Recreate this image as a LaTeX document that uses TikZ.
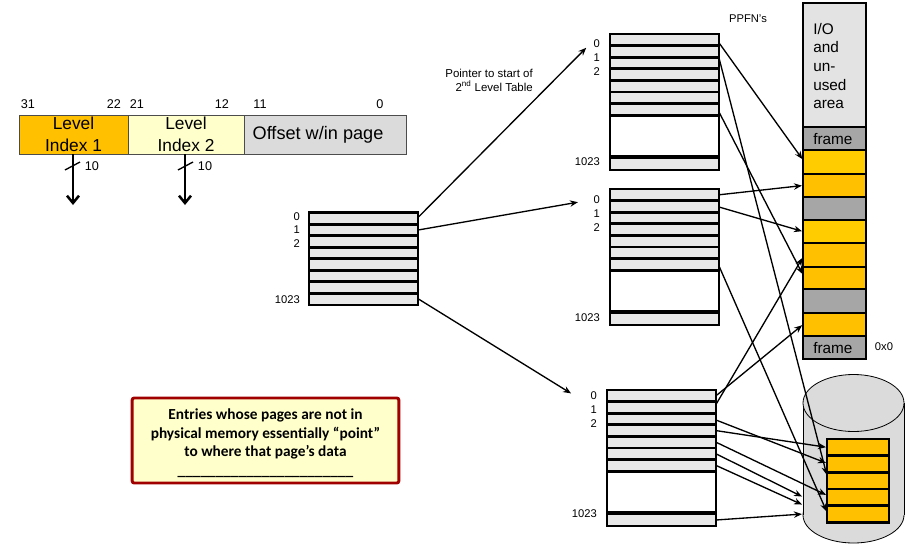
\documentclass[tikz,border=0pt]{standalone}
\usepackage{fontspec}
\setmainfont{Liberation Sans}
\newfontfamily\notefont{Carlito}
\usetikzlibrary{arrows.meta}
\newcommand{\rowh}{11.6}
\tikzset{
  rowcell/.style={draw=black,fill=gray!18,line width=2.1pt,inner sep=0pt,outer sep=0pt,anchor=north west,minimum width=81.75pt,minimum height=8.7pt},
  gapcell/.style={rowcell,fill=white,minimum height=32pt},
  memcell/.style={draw=black,line width=2.2pt,inner sep=0pt,outer sep=0pt,anchor=north west,minimum width=47.25pt},
  diskcell/.style={draw=black,fill=gold2,line width=2.2pt,inner sep=0pt,outer sep=0pt,anchor=north west,minimum width=46.5pt,minimum height=12.5pt},
  bitcell/.style={draw=black!70,line width=.7pt,inner sep=0pt,outer sep=0pt,anchor=north west,minimum height=29.25pt,align=center,font=\fontsize{13}{16.5}\selectfont},
  smalltext/.style={inner sep=0pt,font=\fontsize{8.4}{10}\selectfont},
  bittext/.style={inner sep=0pt,font=\fontsize{9.5}{11}\selectfont},
  memtext/.style={inner sep=0pt,anchor=west,align=left,font=\fontsize{11.5}{14}\selectfont},
  ptr/.style={-{Stealth[length=6pt,width=4.8pt]},line width=1pt,shorten >=.8pt,shorten <=.8pt},
  field/.style={-{Straight Barb[length=5.5pt,width=9pt]},line width=1.9pt},
}
\definecolor{gold1}{HTML}{FFCC00}
\definecolor{gold2}{HTML}{FFC000}
\definecolor{pale}{HTML}{FFFFCC}
\definecolor{midgray}{HTML}{A6A6A6}
\definecolor{noteborder}{HTML}{A00000}
% table name, left edge, top edge, top of the index labels
\newcommand{\pagetable}[4]{
  \node[gapcell] (#1gap) at (#2,#3+80) {};
  \foreach \i in {0,...,6}
    \node[rowcell] (#1r\i) at (#2,{#3+\i*\rowh}) {};
  \node[rowcell,minimum height=9pt] (#1r1023) at (#2,#3+124) {};
  \node[smalltext,anchor=east] (#1l0) at (#2-10,#4) {0};
  \node[smalltext,anchor=east] (#1l1) at (#2-10,#4+14) {1};
  \node[smalltext,anchor=east] (#1l2) at (#2-10,#4+27.5) {2};
  \node[smalltext,anchor=east] (#1l1023) at (#2-10,#4+118) {1023};
}

\begin{document}
\begin{tikzpicture}[x=.75pt,y=-.75pt]
    \useasboundingbox (0,0) rectangle (907,543);
    % the virtual address
    \node[bitcell,fill=gold2,minimum width=81.75pt] (idxa) at (19,115) {Level\\Index 1};
    \node[bitcell,fill=pale,minimum width=87pt] (idxb) at (128,115) {Level\\Index 2};
    \node[bitcell,fill=gray!28,minimum width=121.5pt] (offs) at (244,115) {};
    \node[inner sep=0pt,font=\fontsize{13.6}{16}\selectfont] (offstext) at (318,135) {Offset w/in page};
    \foreach \x/\bit in {28/31, 114/22, 137/21, 222/12, 260/11, 380/0}
    \node[bittext] (bit\bit) at (\x,104) {\bit};
    % bits going down out of the two index fields
    \coordinate (downa) at (73,205);
    \coordinate (downb) at (185,205);
    \draw[field] (downa |- idxa.south) -- (downa);
    \draw[field] (downb |- idxb.south) -- (downb);
    \draw[line width=1pt] (65,170) -- (80,162);
    \draw[line width=1pt] (178,170) -- (193,162);
    \node[bittext] (widtha) at (92,166) {10};
    \node[bittext] (widthb) at (205,166) {10};
    % the first level table
    \foreach \i in {0,...,7}
    \node[rowcell] (rootr\i) at (309,{212.7+\i*11.53}) {};
    \node[smalltext,anchor=east] (rootl0) at (300,217) {0};
    \node[smalltext,anchor=east] (rootl1) at (300,230) {1};
    \node[smalltext,anchor=east] (rootl2) at (300,244) {2};
    \node[smalltext,anchor=east] (rootl1023) at (300,300) {1023};
    % the second level tables
    \pagetable{ta}{610}{34}{44}
    \pagetable{tb}{610}{189}{200}
    \pagetable{tc}{607}{390}{396}
    \node[smalltext,align=right,anchor=east,font=\fontsize{8.6}{10.5}\selectfont] (startnote) at (533,80) {Pointer to start of\\2\textsuperscript{nd} Level Table};
    \node[smalltext] (ppfn) at (748,19) {PPFN's};
    % physical memory frames
    \foreach \n/\t/\b/\c in {0/3/127/gray!22, 1/127/150/midgray, 2/150/174/gold1, 3/174/197/gold2, 4/197/220/midgray, 5/220/243/gold1, 6/243/267/gold2, 7/267/289/gold2, 8/289/313/midgray, 9/313/336/gold2, 10/336/359/midgray}
    \node[memcell,fill=\c,minimum height={(\b-\t)*.75pt}] (mem\n) at (803,\t) {};
    \node[memtext] (iotext) at (813,66) {I/O\\and\\un-\\used\\area};
    \node[memtext] (frametop) at (813,139) {frame};
    \node[memtext] (framelow) at (813,348) {frame};
    \node[smalltext] (zero) at (884,347) {0x0};
    % the disk
    \draw[fill=gray!28,line width=.6pt] (853.5,515) ellipse [x radius=50.5,y radius=28];
    \fill[gray!28] (803,403) rectangle (904,515);
    \draw[line width=.6pt] (803,403) -- (803,515) (904,403) -- (904,515);
    \draw[fill=gray!28,line width=.6pt] (853.5,403) ellipse [x radius=50.5,y radius=28.5];
    \foreach \n/\t in {0/439, 1/456, 2/472.5, 3/489, 4/506}
    \node[diskcell] (disk\n) at (827,\t) {};
    % free ends of the pointers
    \coordinate (enda) at (587,47);
    \coordinate (endb) at (579,202);
    \coordinate (endc) at (572,394);
    \coordinate (diskp) at (803,497);
    \coordinate (diskq) at (803,505);
    \coordinate (diskr) at (803,514);
    % pointers out of the first level table
    \draw[ptr] ([shift={(0,-1)}]rootr0.east) -- (enda);
    \draw[ptr] (rootr1.east) -- (endb);
    \draw[ptr] ([shift={(0,-.5)}]rootr7.east) -- (endc);
    % pointers out of the second level tables
    \foreach \from/\fy/\to/\ty in {tar0/3/mem2/-2, tar1/6.6/disk2/-5, tar6/2.6/mem7/-3, tbr0/0/mem3/0, tbr1/.6/mem5/0, tbr6/1.6/disk4/-2, tcr0/0/mem9/0, tcr1/-3/mem6/2, tcr2/1/disk1/-1, tcr3/0/disk0/0, tcr4/0/disk3/-2}
    \draw[ptr] ([shift={(0,\fy)}]\from.east) -- ([shift={(0,\ty)}]\to.west);
    \foreach \from/\to in {tcr5/diskp, tcr6/diskq, tcr1023/diskr}
    \draw[ptr] (\from.east) -- (\to);
    % the note
    \node[draw=noteborder,fill=pale,line width=2.2pt,rounded corners=1.5pt,inner sep=0pt,minimum width=200pt,minimum height=63.75pt] (note) at (265.5,440.5) {};
    \node[inner sep=0pt,align=center,font=\notefont\bfseries\fontsize{11.5}{13.9}\selectfont] (notetext) at (265.5,443) {Entries whose pages are not in\\physical memory essentially “point”\\to where that page’s data\\\_\_\_\_\_\_\_\_\_\_\_\_\_\_\_\_\_\_\_\_\_\_\_};
\end{tikzpicture}
\end{document}
